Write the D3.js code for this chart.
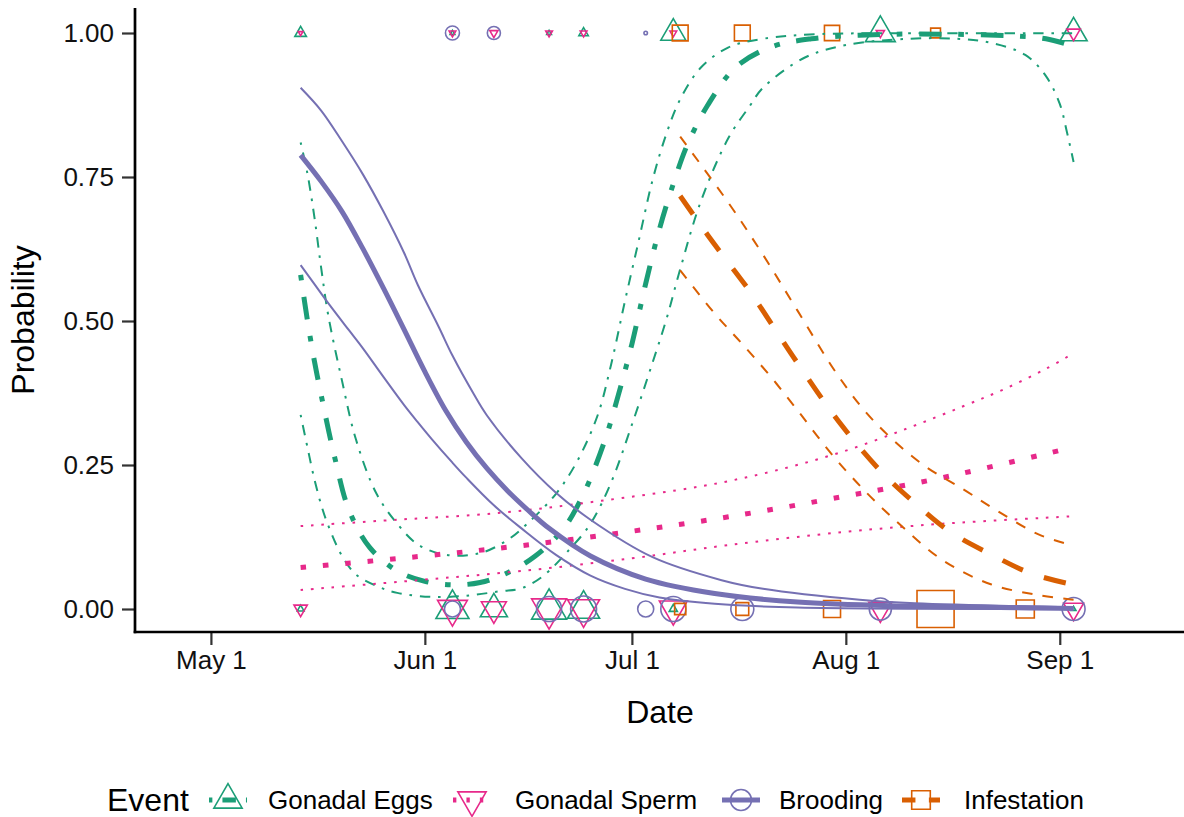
<!DOCTYPE html>
<html>
<head>
<meta charset="utf-8">
<script src="https://cdn.jsdelivr.net/npm/d3@7"></script>
<style>
  body { margin: 0; background: #fff; }
  text { font-family: "Liberation Sans", Arial, Helvetica, sans-serif; }
</style>
</head>
<body>
<svg id="chart" width="1184" height="817"></svg>
<script>
// ---------- categories & styling keys ----------
const events = ["Gonadal Eggs", "Gonadal Sperm", "Brooding", "Infestation"];
const eventColors = ["#1B9E77", "#E7298A", "#7570B3", "#D95F02"];
const eventShapes = ["triangleUp", "triangleDown", "circle", "square"];
const eventDash = [[1, 3, 4, 3], [1, 3], null, [4, 4]];   // dotdash, dotted, solid, dashed

// ---------- axis ticks ----------
const yTicks = [0, 0.25, 0.5, 0.75, 1];
const xTickDates = ["05-01", "06-01", "07-01", "08-01", "09-01"];
const xDomain = ["04-20", "09-19"];

// ---------- observations: [date, outcome (0/1), number of animals] ----------
const eggsObs = [
  ["05-14", 1, 6], ["05-14", 0, 2], ["06-05", 1, 1], ["06-05", 0, 49],
  ["06-11", 0, 33], ["06-19", 1, 1], ["06-19", 0, 55], ["06-24", 1, 4],
  ["06-24", 0, 46], ["07-07", 1, 28], ["07-07", 0, 3], ["08-06", 1, 40],
  ["09-03", 1, 33], ["09-03", 0, 1]
];
const spermObs = [
  ["05-14", 1, 1], ["05-14", 0, 8], ["06-05", 1, 2], ["06-05", 0, 40],
  ["06-11", 1, 3], ["06-11", 0, 28], ["06-19", 1, 2], ["06-19", 0, 55],
  ["06-24", 1, 2], ["06-24", 0, 46], ["07-07", 1, 2], ["07-07", 0, 35],
  ["08-06", 1, 3], ["08-06", 0, 24], ["09-03", 1, 8], ["09-03", 0, 18]
];
const broodObs = [
  ["06-05", 1, 16], ["06-05", 0, 21], ["06-11", 1, 14], ["06-19", 0, 51],
  ["06-24", 0, 55], ["07-03", 1, 1], ["07-03", 0, 21], ["07-07", 0, 51],
  ["07-17", 0, 43], ["08-06", 0, 40], ["09-03", 0, 43]
];
const infestObs = [
  ["07-08", 1, 26], ["07-08", 0, 13], ["07-17", 1, 26], ["07-17", 0, 17],
  ["07-30", 1, 24], ["07-30", 0, 30], ["08-14", 1, 10], ["08-14", 0, 143],
  ["08-27", 0, 34]
];

// ---------- fitted probabilities and confidence bands: [date, probability] ----------
const eggsFit = [
  ["05-14", 0.58], ["05-15", 0.50], ["05-16", 0.43], ["05-17", 0.37], ["05-19", 0.26],
  ["05-21", 0.172], ["05-24", 0.107], ["05-28", 0.066], ["06-01", 0.048], ["06-05", 0.042],
  ["06-09", 0.046], ["06-13", 0.063], ["06-17", 0.092], ["06-21", 0.138], ["06-24", 0.20],
  ["06-27", 0.29], ["06-29", 0.37], ["07-01", 0.46], ["07-03", 0.565], ["07-05", 0.66],
  ["07-07", 0.738], ["07-09", 0.805], ["07-12", 0.875], ["07-16", 0.94], ["07-21", 0.975],
  ["07-27", 0.99], ["08-05", 0.997], ["08-15", 0.998], ["08-25", 0.995], ["08-30", 0.99],
  ["09-03", 0.977]
];
const eggsUpper = [
  ["05-14", 0.81], ["05-15", 0.755], ["05-16", 0.68], ["05-17", 0.59], ["05-18", 0.51],
  ["05-20", 0.396], ["05-22", 0.295], ["05-25", 0.20], ["05-28", 0.148], ["05-31", 0.112],
  ["06-04", 0.094], ["06-09", 0.097], ["06-13", 0.12], ["06-16", 0.15], ["06-20", 0.20],
  ["06-23", 0.255], ["06-26", 0.335], ["06-28", 0.425], ["06-30", 0.535], ["07-02", 0.64],
  ["07-04", 0.745], ["07-06", 0.825], ["07-08", 0.885], ["07-11", 0.94], ["07-15", 0.975],
  ["07-20", 0.99], ["07-28", 0.998], ["08-09", 0.9995], ["09-03", 0.9995]
];
const eggsLower = [
  ["05-14", 0.337], ["05-15", 0.28], ["05-16", 0.225], ["05-17", 0.18], ["05-18", 0.145],
  ["05-20", 0.092], ["05-22", 0.06], ["05-25", 0.04], ["05-28", 0.028], ["06-02", 0.021],
  ["06-07", 0.023], ["06-12", 0.031], ["06-15", 0.036], ["06-18", 0.056], ["06-22", 0.104],
  ["06-25", 0.148], ["06-28", 0.22], ["07-01", 0.32], ["07-04", 0.428], ["07-06", 0.503],
  ["07-08", 0.59], ["07-11", 0.708], ["07-15", 0.818], ["07-18", 0.872], ["07-20", 0.905],
  ["07-26", 0.957], ["08-01", 0.979], ["08-10", 0.99], ["08-17", 0.99], ["08-22", 0.983],
  ["08-27", 0.962], ["08-30", 0.925], ["09-01", 0.877], ["09-02", 0.83], ["09-03", 0.776]
];

const spermFit = [
  ["05-14", 0.072], ["05-31", 0.091], ["06-15", 0.11], ["07-01", 0.135],
  ["07-15", 0.16], ["08-01", 0.196], ["08-15", 0.228], ["09-03", 0.281]
];
const spermUpper = [
  ["05-14", 0.144], ["05-28", 0.155], ["06-12", 0.167], ["06-26", 0.187],
  ["07-11", 0.213], ["07-21", 0.238], ["07-31", 0.271], ["08-10", 0.314],
  ["08-18", 0.352], ["08-24", 0.382], ["08-30", 0.417], ["09-03", 0.444]
];
const spermLower = [
  ["05-14", 0.033], ["05-31", 0.05], ["06-15", 0.066], ["07-01", 0.088],
  ["07-15", 0.111], ["08-01", 0.134], ["08-15", 0.148], ["09-03", 0.161]
];

const broodFit = [
  ["05-14", 0.788], ["05-17", 0.742], ["05-20", 0.69], ["05-23", 0.626], ["05-26", 0.557],
  ["05-29", 0.485], ["06-01", 0.412], ["06-04", 0.345], ["06-07", 0.29], ["06-10", 0.244],
  ["06-13", 0.205], ["06-16", 0.171], ["06-19", 0.14], ["06-25", 0.092], ["07-03", 0.052],
  ["07-13", 0.027], ["07-25", 0.012], ["08-10", 0.005], ["09-03", 0.001]
];
const broodUpper = [
  ["05-14", 0.905], ["05-17", 0.865], ["05-20", 0.812], ["05-23", 0.755], ["05-26", 0.69],
  ["05-29", 0.618], ["05-31", 0.562], ["06-03", 0.49], ["06-05", 0.44], ["06-08", 0.375],
  ["06-10", 0.336], ["06-15", 0.262], ["06-20", 0.202], ["06-25", 0.155], ["07-04", 0.09],
  ["07-14", 0.05], ["07-20", 0.035], ["08-03", 0.016], ["08-11", 0.01], ["09-03", 0.003]
];
const broodLower = [
  ["05-14", 0.597], ["05-16", 0.564], ["05-18", 0.531], ["05-21", 0.484], ["05-23", 0.453],
  ["05-26", 0.403], ["05-29", 0.354], ["05-31", 0.324], ["06-02", 0.295], ["06-05", 0.254],
  ["06-07", 0.228], ["06-11", 0.18], ["06-15", 0.14], ["06-20", 0.094], ["06-25", 0.058],
  ["06-30", 0.035], ["07-05", 0.02], ["07-13", 0.009], ["07-25", 0.0025], ["09-03", 0.0002]
];

const infestFit = [
  ["07-08", 0.717], ["07-12", 0.649], ["07-16", 0.585], ["07-18", 0.553], ["07-25", 0.427],
  ["07-31", 0.325], ["08-06", 0.24], ["08-11", 0.184], ["08-16", 0.135], ["08-22", 0.095],
  ["08-28", 0.061], ["09-03", 0.042]
];
const infestUpper = [
  ["07-08", 0.82], ["07-15", 0.705], ["07-20", 0.615], ["07-25", 0.518], ["07-31", 0.403],
  ["08-05", 0.327], ["08-12", 0.252], ["08-18", 0.208], ["08-23", 0.17], ["08-29", 0.129],
  ["09-03", 0.11]
];
const infestLower = [
  ["07-08", 0.588], ["07-13", 0.513], ["07-17", 0.46], ["07-21", 0.405], ["07-25", 0.345],
  ["07-30", 0.268], ["08-04", 0.202], ["08-09", 0.145], ["08-15", 0.085], ["08-22", 0.043],
  ["08-29", 0.024], ["09-03", 0.016]
];

const obsByEvent = [eggsObs, spermObs, broodObs, infestObs];
const fitByEvent = [eggsFit, spermFit, broodFit, infestFit];
const bandsByEvent = [[eggsUpper, eggsLower], [spermUpper, spermLower],
                      [broodUpper, broodLower], [infestUpper, infestLower]];

// ---------- scales ----------
const parseDay = s => d3.timeParse("%Y-%m-%d")("2019-" + s);
const x = d3.scaleTime().domain(xDomain.map(parseDay)).range([135, 1184]);
const y = d3.scaleLinear().domain([0, 1]).range([609, 33]);
const sizeScale = d3.scaleSqrt().domain([0, 144]).range([0, 21]);

const svg = d3.select("#chart");

// open plotting symbols, r = base radius
function symbolPath(shape, cx, cy, r) {
  if (shape === "triangleUp") {
    return `M${cx},${cy - 1.555 * r}L${cx + 1.347 * r},${cy + 0.778 * r}L${cx - 1.347 * r},${cy + 0.778 * r}Z`;
  }
  if (shape === "triangleDown") {
    return `M${cx},${cy + 1.555 * r}L${cx + 1.347 * r},${cy - 0.778 * r}L${cx - 1.347 * r},${cy - 0.778 * r}Z`;
  }
  if (shape === "square") {
    const h = 0.886 * r;
    return `M${cx - h},${cy - h}H${cx + h}V${cy + h}H${cx - h}Z`;
  }
  return `M${cx + r},${cy}A${r},${r} 0 1,1 ${cx - r},${cy}A${r},${r} 0 1,1 ${cx + r},${cy}Z`;
}

// ---------- axes ----------
const THIN_W = 2.0, THIN_U = 2.6, THICK_W = 5.0, THICK_U = 5.6;
const TICK_FONT = "26px", TITLE_FONT = "32px";

const yAxis = d3.axisLeft(y).tickValues(yTicks).tickFormat(d3.format(".2f"))
  .tickSize(13).tickPadding(8);
svg.append("g").attr("transform", "translate(135,0)").call(yAxis)
  .call(g => g.select(".domain").remove())
  .call(g => g.selectAll(".tick line").attr("stroke", "#333").attr("stroke-width", 2.2))
  .call(g => g.selectAll(".tick text").attr("fill", "#111").style("font-size", TICK_FONT));

const xAxis = d3.axisBottom(x).tickValues(xTickDates.map(parseDay))
  .tickFormat(d3.timeFormat("%b %-d")).tickSize(13).tickPadding(6);
svg.append("g").attr("transform", "translate(0,632)").call(xAxis)
  .call(g => g.select(".domain").remove())
  .call(g => g.selectAll(".tick line").attr("stroke", "#333").attr("stroke-width", 2.2))
  .call(g => g.selectAll(".tick text").attr("fill", "#111").style("font-size", TICK_FONT));

svg.append("line").attr("x1", 135).attr("x2", 135).attr("y1", 8).attr("y2", 633.3)
  .attr("stroke", "#000").attr("stroke-width", 2.7);
svg.append("line").attr("x1", 133.7).attr("x2", 1184).attr("y1", 632).attr("y2", 632)
  .attr("stroke", "#000").attr("stroke-width", 2.7);

svg.append("text").attr("transform", "translate(34,320) rotate(-90)")
  .attr("text-anchor", "middle").style("font-size", TITLE_FONT).attr("fill", "#000")
  .text("Probability");
svg.append("text").attr("x", 660).attr("y", 723).attr("text-anchor", "middle")
  .style("font-size", TITLE_FONT).attr("fill", "#000").text("Date");

// ---------- observed points ----------
const pointLayer = svg.append("g");
obsByEvent.forEach((obs, i) => {
  pointLayer.selectAll(null).data(obs).join("path")
    .attr("d", d => symbolPath(eventShapes[i], x(parseDay(d[0])), y(d[1]), sizeScale(d[2])))
    .attr("fill", "none").attr("stroke", eventColors[i]).attr("stroke-width", 1.6);
});

// ---------- fitted curves with confidence bands ----------
const line = d3.line()
  .x(d => x(parseDay(d[0])))
  .y(d => y(d[1]))
  .curve(d3.curveCatmullRom.alpha(0.5));

const lineLayer = svg.append("g").attr("fill", "none");
events.forEach((ev, i) => {
  bandsByEvent[i].forEach(band => {
    lineLayer.append("path").attr("d", line(band))
      .attr("stroke", eventColors[i]).attr("stroke-width", THIN_W)
      .attr("stroke-dasharray", eventDash[i] ? eventDash[i].map(v => v * THIN_U).join(",") : null);
  });
  lineLayer.append("path").attr("d", line(fitByEvent[i]))
    .attr("stroke", eventColors[i]).attr("stroke-width", THICK_W)
    .attr("stroke-dasharray", eventDash[i] ? eventDash[i].map(v => v * THICK_U).join(",") : null);
});

// ---------- legend ----------
const legend = svg.append("g");
legend.append("text").attr("x", 107).attr("y", 811).style("font-size", TITLE_FONT)
  .attr("fill", "#000").text("Event");
const keyCenters = [228, 472, 741, 921];
const labelStarts = [268, 515, 779, 964];
events.forEach((ev, i) => {
  const cx = keyCenters[i], cy = 800;
  legend.append("line").attr("x1", cx - 19).attr("x2", cx + 19).attr("y1", cy).attr("y2", cy)
    .attr("stroke", eventColors[i]).attr("stroke-width", THICK_W)
    .attr("stroke-dasharray", eventDash[i] ? eventDash[i].map(v => v * THICK_U * 0.6).join(",") : null);
  legend.append("path").attr("d", symbolPath(eventShapes[i], cx, cy, 10.5))
    .attr("fill", "none").attr("stroke", eventColors[i]).attr("stroke-width", 1.6);
  legend.append("text").attr("x", labelStarts[i]).attr("y", 809).style("font-size", TICK_FONT)
    .attr("fill", "#000").text(ev);
});
</script>
</body>
</html>
